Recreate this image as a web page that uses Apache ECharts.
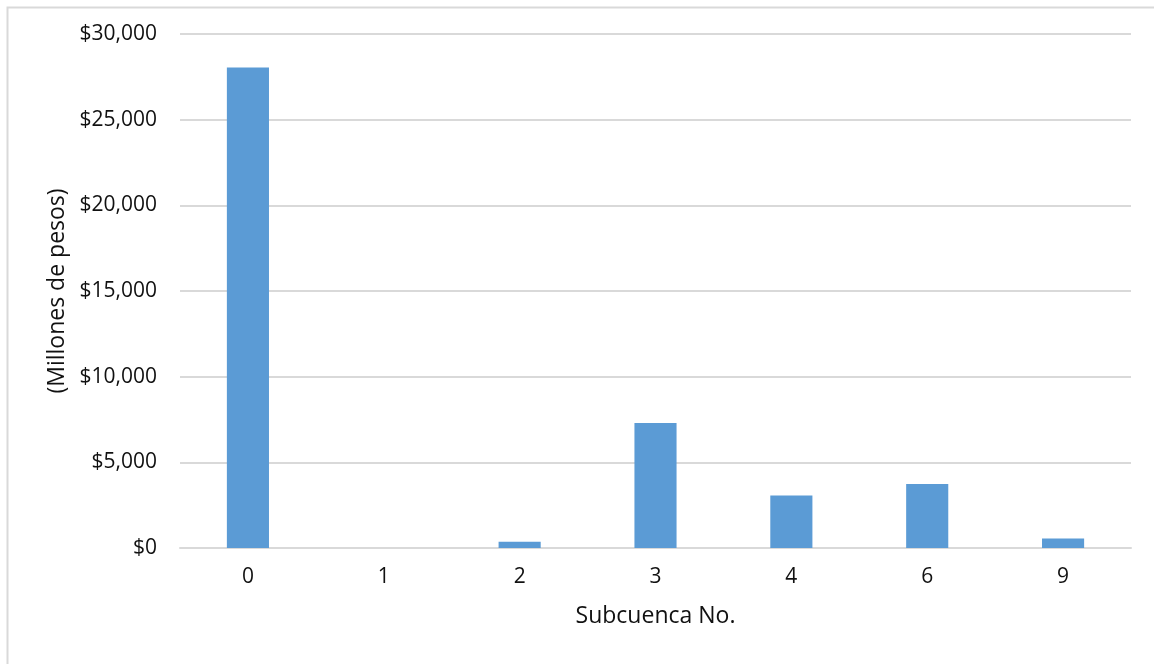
<!DOCTYPE html>
<html>
<head>
<meta charset="utf-8">
<script src="https://cdn.jsdelivr.net/npm/echarts@6/dist/echarts.min.js"></script>
<style>
  html, body { margin: 0; padding: 0; background: #fff; }
  #chart { width: 1154px; height: 664px; }
</style>
</head>
<body>
<div id="chart"></div>
<script>
// Subcuencas and their amounts (millions of pesos)
const categories = ['0', '1', '2', '3', '4', '6', '9'];
const amounts = [28040, 0, 370, 7300, 3070, 3740, 560];
const yTicks = { min: 0, max: 30000, interval: 5000 };

const fontFamily = '"Open Sans", "Noto Sans", sans-serif';
const textColor = '#111111';

const chart = echarts.init(document.getElementById('chart'), null, { renderer: 'canvas' });

chart.setOption({
  animation: false,
  backgroundColor: '#ffffff',
  graphic: [{
    type: 'rect',
    left: 5, top: 5,
    shape: { width: 1170, height: 700 },
    style: { fill: 'none', stroke: '#d9d9d9', lineWidth: 2 },
    silent: true
  }],
  grid: { left: 180, right: 23, top: 34, bottom: 116, containLabel: false },
  xAxis: {
    type: 'category',
    data: categories,
    name: 'Subcuenca No.',
    nameLocation: 'middle',
    nameGap: 57,
    nameTextStyle: { fontFamily, fontSize: 23, color: textColor },
    axisLine: { show: true, lineStyle: { color: '#d9d9d9', width: 2 } },
    axisTick: { show: false },
    axisLabel: { fontFamily, fontSize: 21, color: textColor, margin: 19 }
  },
  yAxis: {
    type: 'value',
    min: yTicks.min,
    max: yTicks.max,
    interval: yTicks.interval,
    name: '(Millones de pesos)',
    nameLocation: 'middle',
    nameRotate: 90,
    nameGap: 111,
    nameTextStyle: { fontFamily, fontSize: 23, color: textColor },
    axisLine: { show: false },
    axisTick: { show: false },
    splitLine: { lineStyle: { color: '#d9d9d9', width: 2 } },
    axisLabel: {
      fontFamily, fontSize: 21, color: textColor, margin: 23,
      formatter: v => '$' + v.toLocaleString('en-US')
    }
  },
  series: [{
    type: 'bar',
    data: amounts,
    barWidth: '31%',
    itemStyle: { color: '#5b9bd5' }
  }]
});
</script>
</body>
</html>
